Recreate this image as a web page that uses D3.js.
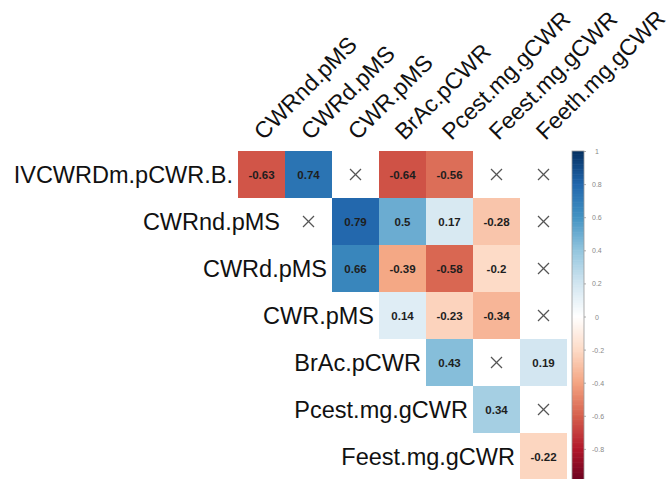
<!DOCTYPE html>
<html>
<head>
<meta charset="utf-8">
<script src="https://cdn.jsdelivr.net/npm/d3@7"></script>
<style>
  html, body { margin: 0; padding: 0; background: #fff; }
  svg { display: block; }
</style>
</head>
<body>
<div id="chart"></div>
<script>
// ---- data ----
const rowLabels = ["IVCWRDm.pCWR.B.", "CWRnd.pMS", "CWRd.pMS", "CWR.pMS", "BrAc.pCWR", "Pcest.mg.gCWR", "Feest.mg.gCWR"];
const colLabels = ["CWRnd.pMS", "CWRd.pMS", "CWR.pMS", "BrAc.pCWR", "Pcest.mg.gCWR", "Feest.mg.gCWR", "Feeth.mg.gCWR"];
// null = non-significant (cross); lower triangle not drawn
const row0 = [-0.63, 0.74, null, -0.64, -0.56, null, null];
const row1 = [null, 0.79, 0.50, 0.17, -0.28, null];
const row2 = [0.66, -0.39, -0.58, -0.20, null];
const row3 = [0.14, -0.23, -0.34, null];
const row4 = [0.43, null, 0.19];
const row5 = [0.34, null];
const row6 = [-0.22];
const rowValues = [row0, row1, row2, row3, row4, row5, row6];
const legendTicks = [1, 0.8, 0.6, 0.4, 0.2, 0, -0.2, -0.4, -0.6, -0.8];
const palette = ["#67001F","#B2182B","#D6604D","#F4A582","#FDDBC7","#FFFFFF","#D1E5F0","#92C5DE","#4393C3","#2166AC","#053061"];

// ---- layout ----
const W = 670, H = 479;
const gridLeft = 238, gridTop = 151, cell = 47;
const labelFont = "'Liberation Sans', Arial, sans-serif";

const svg = d3.select("#chart").append("svg").attr("width", W).attr("height", H);

const x = d3.scaleBand().domain(colLabels.map((d, i) => i)).range([gridLeft, gridLeft + cell * colLabels.length]).padding(0);
const y = d3.scaleBand().domain(rowLabels.map((d, i) => i)).range([gridTop, gridTop + cell * rowLabels.length]).padding(0);
const color = d3.scaleLinear().domain(d3.range(11).map(i => -1 + i * 0.2)).range(palette).clamp(true);
const fmt = v => String(+v.toFixed(2));

const cells = [];
rowValues.forEach((vals, r) => {
  vals.forEach((v, k) => cells.push({ r, c: r + k, v }));
});

const g = svg.append("g");

g.selectAll("rect.cell").data(cells.filter(d => d.v !== null)).join("rect")
  .attr("class", "cell")
  .attr("x", d => x(d.c)).attr("y", d => y(d.r))
  .attr("width", x.bandwidth()).attr("height", y.bandwidth())
  .attr("fill", d => color(d.v));

g.selectAll("text.num").data(cells.filter(d => d.v !== null)).join("text")
  .attr("class", "num")
  .attr("x", d => x(d.c) + x.bandwidth() / 2)
  .attr("y", d => y(d.r) + y.bandwidth() / 2 + 4)
  .attr("text-anchor", "middle")
  .attr("font-family", labelFont).attr("font-weight", "bold").attr("font-size", 11.5)
  .attr("fill", "#1e1e1e")
  .text(d => fmt(d.v));

const crosses = g.selectAll("g.cross").data(cells.filter(d => d.v === null)).join("g")
  .attr("class", "cross")
  .attr("transform", d => `translate(${x(d.c) + x.bandwidth() / 2},${y(d.r) + y.bandwidth() / 2})`);
const s = 5.5;
crosses.append("line").attr("x1", -s).attr("y1", -s).attr("x2", s).attr("y2", s)
  .attr("stroke", "#555").attr("stroke-width", 1.3);
crosses.append("line").attr("x1", -s).attr("y1", s).attr("x2", s).attr("y2", -s)
  .attr("stroke", "#555").attr("stroke-width", 1.3);

g.selectAll("text.rowlab").data(rowLabels).join("text")
  .attr("class", "rowlab")
  .attr("x", (d, i) => x(i) - 5)
  .attr("y", (d, i) => y(i) + y.bandwidth() / 2 + 8)
  .attr("text-anchor", "end")
  .attr("font-family", labelFont).attr("font-size", 23.5)
  .attr("fill", "#111")
  .text(d => d);

g.selectAll("text.collab").data(colLabels).join("text")
  .attr("class", "collab")
  .attr("transform", (d, i) => `translate(${x(i) + x.bandwidth() / 2 + 2},${gridTop - 10}) rotate(-45)`)
  .attr("text-anchor", "start")
  .attr("font-family", labelFont).attr("font-size", 23)
  .attr("fill", "#111")
  .text(d => d);

// ---- color legend ----
const barX = 572, barW = 12;
const ly = d3.scaleLinear().domain([1, -1]).range([151, 482]);
const steps = d3.range(200).map(i => 1 - i * 0.01);
const leg = svg.append("g");
leg.selectAll("rect").data(steps).join("rect")
  .attr("x", barX).attr("width", barW)
  .attr("y", d => ly(d)).attr("height", ly(0) - ly(0.01) + 0.6)
  .attr("fill", d => color(d - 0.005));
leg.append("rect").attr("x", barX).attr("y", ly(1)).attr("width", barW).attr("height", ly(-1) - ly(1))
  .attr("fill", "none").attr("stroke", "#999").attr("stroke-width", 0.8);
leg.selectAll("line.tick").data(legendTicks).join("line")
  .attr("class", "tick")
  .attr("x1", barX + barW).attr("x2", barX + barW + 2)
  .attr("y1", d => ly(d) + 0.5).attr("y2", d => ly(d) + 0.5)
  .attr("stroke", "#999").attr("stroke-width", 0.8);
leg.selectAll("text.tl").data(legendTicks).join("text")
  .attr("class", "tl")
  .attr("x", d => d === 1 || d === 0 ? barX + 23 : barX + 20)
  .attr("y", d => ly(d) + 3)
  .attr("font-family", labelFont).attr("font-size", 7)
  .attr("fill", "#888")
  .text(d => String(+d.toFixed(1)));
</script>
</body>
</html>
